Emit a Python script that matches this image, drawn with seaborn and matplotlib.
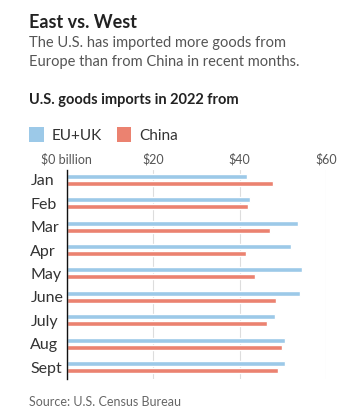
import matplotlib
matplotlib.use("Agg")
import matplotlib.pyplot as plt
from matplotlib.patches import Patch
import seaborn as sns
import pandas as pd

months = ["Jan", "Feb", "Mar", "Apr", "May", "June", "July", "Aug", "Sept"]
eu_uk = [41.7, 42.4, 53.5, 51.8, 54.4, 53.9, 48.2, 50.5, 50.5]
china = [47.7, 41.9, 47.0, 41.5, 43.6, 48.4, 46.3, 49.9, 49.0]
series = ["EU+UK", "China"]
colors = ["#9CC9E8", "#EB8270"]
xticks = [0, 20, 40, 60]
xticklabels = ["$0 billion", "$20", "$40", "$60"]

df = pd.DataFrame({
    "month": months * 2,
    "value": eu_uk + china,
    "region": [series[0]] * len(months) + [series[1]] * len(months),
})

sns.set_style("white")
plt.rcParams["font.family"] = ["Lato", "DejaVu Sans"]

W, H = 346, 420
fig = plt.figure(figsize=(W / 100, H / 100), dpi=100)
ax = fig.add_axes([66.5 / W, 1 - 379 / H, (326 - 66.5) / W, (379 - 170) / H])

sns.barplot(data=df, x="value", y="month", hue="region", order=months,
            hue_order=series, palette=colors, orient="h", width=0.6, gap=0.28,
            ax=ax, legend=False, saturation=1)

ax.set_xlim(0, 60)
ax.set_ylim(8.51, -0.42)
ax.set_xlabel("")
ax.set_ylabel("")
ax.xaxis.tick_top()
ax.set_xticks(xticks)
ax.set_xticklabels(xticklabels, fontsize=9, color="#555555")
ax.tick_params(axis="x", length=0, pad=3)
ax.tick_params(axis="y", length=0, pad=26)
for lab in ax.get_yticklabels():
    lab.set_horizontalalignment("left")
    lab.set_fontsize(11.5)
    lab.set_color("#333333")
ax.grid(axis="x", color="#DDDDDD", linewidth=0.8)
ax.set_axisbelow(True)
for s in ["top", "right", "bottom"]:
    ax.spines[s].set_visible(False)
ax.spines["left"].set_color("#111111")
ax.spines["left"].set_linewidth(1.0)

def fy(py):
    return 1 - py / H

fig.text(29 / W, fy(22), "East vs. West", fontsize=13, fontweight="bold",
         color="#222222", va="center", ha="left")
fig.text(29 / W, fy(43), "The U.S. has imported more goods from", fontsize=10.5,
         color="#555555", va="center", ha="left")
fig.text(29 / W, fy(62), "Europe than from China in recent months.", fontsize=10.5,
         color="#555555", va="center", ha="left")
fig.text(29 / W, fy(100), "U.S. goods imports in 2022 from", fontsize=10.5,
         fontweight="bold", color="#222222", va="center", ha="left")
fig.text(29 / W, fy(402), "Source: U.S. Census Bureau", fontsize=9,
         color="#666666", va="center", ha="left")

handles = [Patch(facecolor=c, edgecolor="none", label=s) for s, c in zip(series, colors)]
fig.legend(handles=handles, loc="center left", bbox_to_anchor=(29 / W, fy(135)),
           ncol=2, frameon=False, handlelength=0.95, handleheight=1.15,
           handletextpad=0.5, columnspacing=1.0, fontsize=11,
           borderpad=0, borderaxespad=0, labelcolor="#333333")

fig.savefig("out.png", dpi=100, facecolor="white")
